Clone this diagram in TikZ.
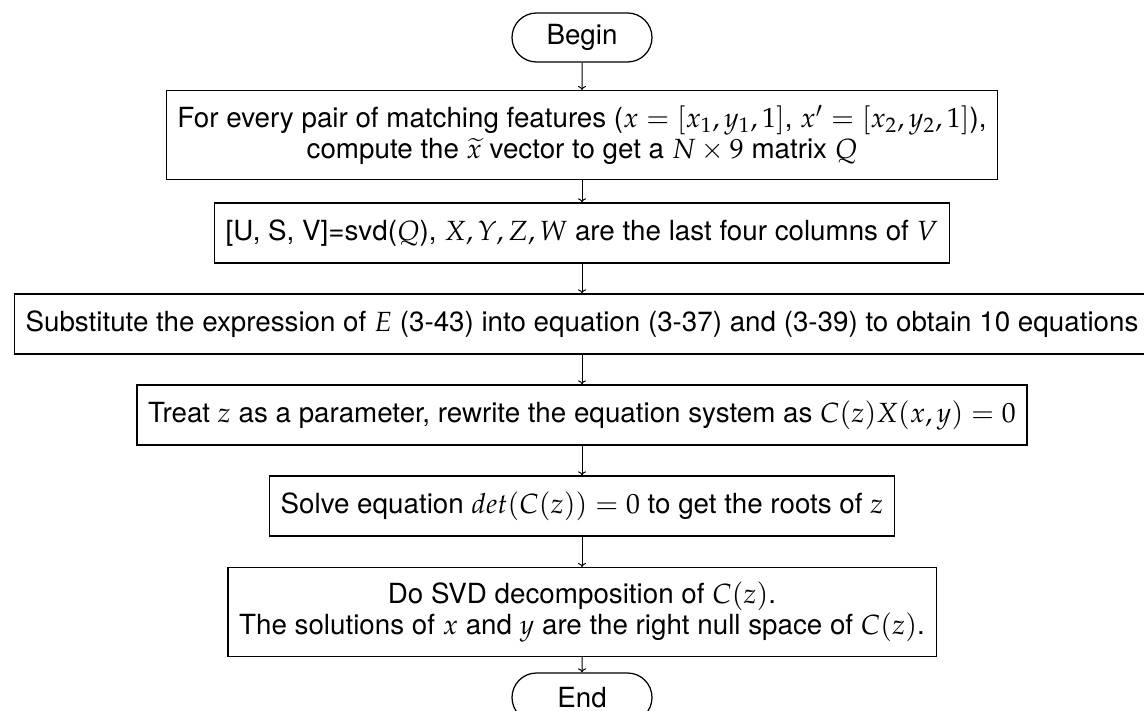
\documentclass[tikz,border=0pt]{standalone}
\usepackage{mathpazo}
\usepackage[no-math]{fontspec}
\setmainfont{TeX Gyre Heros}
\usetikzlibrary{shapes.misc,arrows.meta}
\tikzset{
  term/.style ={draw, line width=.5pt, rounded rectangle, minimum width=60pt, minimum height=19.6pt, inner sep=2pt},
  stepbox/.style={draw, line width=.5pt, align=center, inner xsep=4.5pt, inner ysep=3pt, minimum height=24pt},
  twobox/.style={stepbox, minimum height=35.5pt},
  ln/.style   ={draw, line width=.4pt, -{To[length=1.6pt,width=3.2pt]}},
}

\begin{document}
\begin{tikzpicture}[x=0.4pt,y=-0.4pt,font=\fontsize{11.1}{12.4}\selectfont]
    \useasboundingbox (0,0) rectangle (1144,711);
    \node[term] (begin) at (582,37.5) {Begin};
    \node[twobox] (pairs) at (582,135)
      {For every pair of matching features ($x=[x_1,y_1,1]$, $x'=[x_2,y_2,1]$),\\
       compute the $\widetilde{x}$ vector to get a $N\times 9$ matrix $Q$};
    \node[stepbox] (svd) at (582,233)
      {[U, S, V]=svd($Q$), $X,Y,Z,W$ are the last four columns of $V$};
    \node[stepbox] (subst) at (582,324)
      {Substitute the expression of $E$ (3-43) into equation (3-37) and (3-39) to obtain 10 equations};
    \node[stepbox] (treat) at (582,415)
      {Treat $z$ as a parameter, rewrite the equation system as $C(z)X(x,y)=0$};
    \node[stepbox] (solve) at (582,506)
      {Solve equation $det(C(z))=0$ to get the roots of $z$};
    \node[twobox] (null) at (582,612)
      {Do SVD decomposition of $C(z)$.\\
       The solutions of $x$ and $y$ are the right null space of $C(z)$.};
    \node[term] (end) at (582,697.5) {End};
    \draw[ln] (begin) -- (pairs);
    \draw[ln] (pairs) -- (svd);
    \draw[ln] (svd) -- (subst);
    \draw[ln] (subst) -- (treat);
    \draw[ln] (treat) -- (solve);
    \draw[ln] (solve) -- (null);
    \draw[ln] (null) -- (end);
\end{tikzpicture}
\end{document}
